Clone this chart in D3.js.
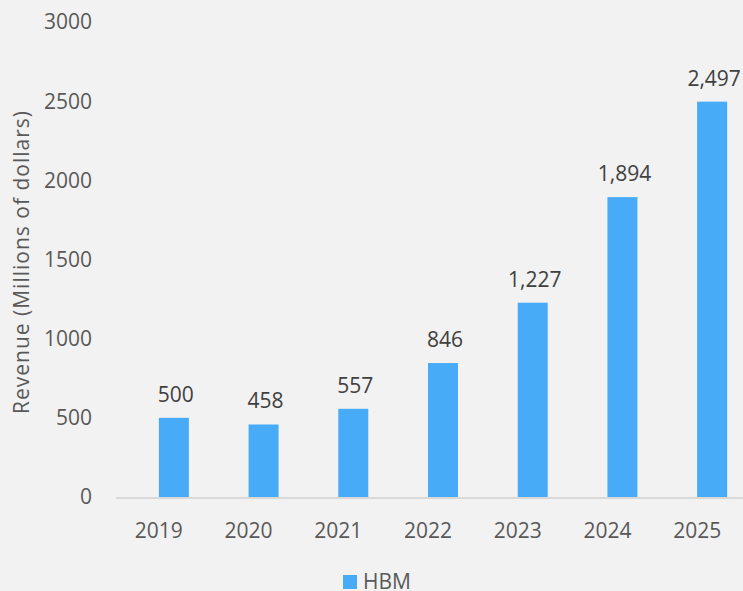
<!DOCTYPE html>
<html>
<head>
<meta charset="utf-8">
<script src="https://cdn.jsdelivr.net/npm/d3@7"></script>
<style>
  body { margin: 0; background: #f2f2f2; }
  text { font-family: "Open Sans", sans-serif; fill: #595959; }
</style>
</head>
<body>
<div id="chart"></div>
<script>
var years = ["2019", "2020", "2021", "2022", "2023", "2024", "2025"];
var revenue = [500, 458, 557, 846, 1227, 1894, 2497];
var yTicks = [0, 500, 1000, 1500, 2000, 2500, 3000];
var seriesName = "HBM";

var w = 743, h = 591;
var barWidth = 30;

var svg = d3.select("#chart")
    .append("svg")
    .attr("width", w)
    .attr("height", h);

svg.append("rect")
    .attr("width", w)
    .attr("height", h)
    .attr("fill", "#f2f2f2");

var x = d3.scaleBand()
    .domain(years)
    .range([114, 742]);

var y = d3.scaleLinear()
    .domain([0, 3000])
    .range([497, 22]);

// y tick labels
svg.selectAll(".ytick")
    .data(yTicks)
    .enter()
    .append("text")
    .attr("class", "ytick")
    .attr("x", 92)
    .attr("y", function(d){ return y(d); })
    .attr("dy", "0.35em")
    .attr("text-anchor", "end")
    .style("font-size", "21px")
    .text(function(d){ return d; });

// baseline
svg.append("line")
    .attr("x1", 116)
    .attr("x2", w)
    .attr("y1", y(0) + 1)
    .attr("y2", y(0) + 1)
    .attr("stroke", "#d9d9d9")
    .attr("stroke-width", 2);

// bars
svg.selectAll(".bar")
    .data(revenue)
    .enter()
    .append("rect")
    .attr("class", "bar")
    .attr("x", function(d, i){ return x(years[i]) + x.bandwidth() / 2; })
    .attr("y", function(d){ return y(d); })
    .attr("width", barWidth)
    .attr("height", function(d){ return y(0) - y(d); })
    .attr("fill", "#48abf7");

// value labels
svg.selectAll(".val")
    .data(revenue)
    .enter()
    .append("text")
    .attr("class", "val")
    .attr("x", function(d, i){ return x(years[i]) + x.bandwidth() / 2 + barWidth / 2 + 2; })
    .attr("y", function(d){ return y(d) - 16; })
    .attr("text-anchor", "middle")
    .style("font-size", "21px")
    .style("fill", "#404040")
    .text(function(d){ return d3.format(",")(d); });

// category labels
svg.selectAll(".xlab")
    .data(years)
    .enter()
    .append("text")
    .attr("class", "xlab")
    .attr("x", function(d){ return x(d) + x.bandwidth() / 2; })
    .attr("y", 538)
    .attr("text-anchor", "middle")
    .style("font-size", "21px")
    .text(function(d){ return d; });

// axis title
svg.append("text")
    .attr("transform", "translate(29,262) rotate(-90)")
    .attr("text-anchor", "middle")
    .style("font-size", "21px")
    .style("letter-spacing", "1px")
    .text("Revenue (Millions of dollars)");

// legend
svg.append("rect")
    .attr("x", 343)
    .attr("y", 575)
    .attr("width", 14)
    .attr("height", 14)
    .attr("fill", "#48abf7");

svg.append("text")
    .attr("x", 363)
    .attr("y", 589)
    .style("font-size", "21px")
    .text(seriesName);
</script>
</body>
</html>
